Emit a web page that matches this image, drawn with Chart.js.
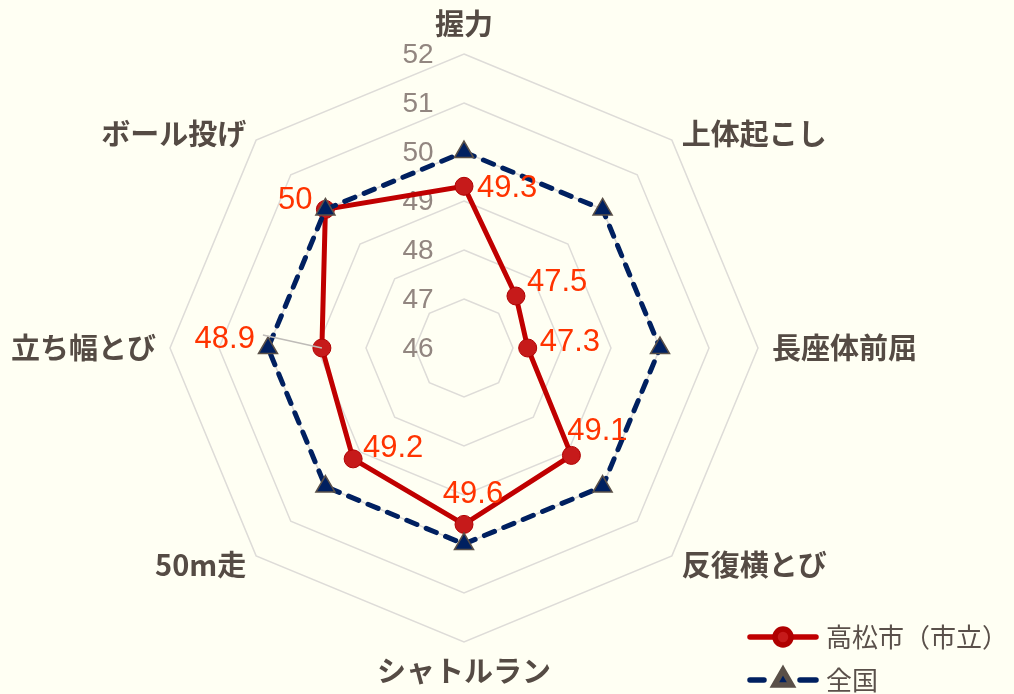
<!DOCTYPE html>
<html lang="ja">
<head>
<meta charset="UTF-8">
<title>体力テスト レーダーチャート</title>
<script src="https://cdn.jsdelivr.net/npm/chart.js@4.4.1/dist/chart.umd.min.js"></script>
<style>
    html, body { margin: 0; padding: 0; background: #fffff3; }
    #wrap { width: 1014px; height: 694px; }
</style>
</head>
<body>
<div id="wrap"><canvas id="radarChart" width="1014" height="694"></canvas></div>
<script>
// 種目と得点（全国＝50）
const categories = ['握力', '上体起こし', '長座体前屈', '反復横とび', 'シャトルラン', '50m走', '立ち幅とび', 'ボール投げ'];
const takamatsuScores = [49.3, 47.5, 47.3, 49.1, 49.6, 49.2, 48.9, 50];
const nationalScores = [50, 50, 50, 50, 50, 50, 50, 50];
const tickValues = [46, 47, 48, 49, 50, 51, 52];
const seriesNames = ['高松市（市立）', '全国'];

const JP_FONT = '"Noto Sans CJK JP", sans-serif';
const NUM_FONT = '"Liberation Sans", Arial, sans-serif';

// 値ラベルの置き場所（点からのずれ）
const labelPlacement = [
    { dx: 13, dy: 2, align: 'left' },
    { dx: 11, dy: -14, align: 'left' },
    { dx: 12, dy: -6, align: 'left' },
    { dx: 26, dy: -24, align: 'center' },
    { dx: 9, dy: -30, align: 'center' },
    { dx: 40, dy: -10, align: 'center' },
    { dx: -67, dy: -9, align: 'right', leader: true },
    { dx: -13, dy: -9, align: 'right' },
];

// 種目名（外周の少し外側）
const axisLabelPlugin = {
    id: 'axisLabels',
    afterDraw(chart) {
        const r = chart.scales.r;
        const ctx = chart.ctx;
        ctx.save();
        ctx.font = 'bold 29px ' + JP_FONT;
        ctx.fillStyle = '#554b44';
        ctx.textBaseline = 'middle';
        chart.data.labels.forEach((label, i) => {
            const pos = r.getPointPosition(i, r.drawingArea + 14);
            const dx = pos.x - r.xCenter;
            const dy = pos.y - r.yCenter;
            let y = pos.y;
            if (Math.abs(dx) < 1) {
                ctx.textAlign = 'center';
                y += dy < 0 ? -16 : 15;
            } else {
                ctx.textAlign = dx > 0 ? 'left' : 'right';
                if (Math.abs(dy) > 1) y += dy < 0 ? 4 : -1;
            }
            ctx.fillText(label, pos.x, y);
        });
        ctx.restore();
    }
};

// 目盛りの数値（中心軸の左側）
const tickLabelPlugin = {
    id: 'tickLabels',
    beforeDatasetsDraw(chart) {
        const r = chart.scales.r;
        const ctx = chart.ctx;
        ctx.save();
        ctx.font = '28px ' + NUM_FONT;
        ctx.fillStyle = '#928680';
        ctx.textAlign = 'center';
        ctx.textBaseline = 'middle';
        tickValues.forEach((v) => {
            const y = r.yCenter - r.getDistanceFromCenterForValue(v);
            ctx.fillText(String(v), r.xCenter - 46, y + 1);
        });
        ctx.restore();
    }
};

// 高松市の値ラベル
const valueLabelPlugin = {
    id: 'valueLabels',
    afterDatasetsDraw(chart) {
        const ctx = chart.ctx;
        const meta = chart.getDatasetMeta(0);
        ctx.save();
        ctx.font = '31px ' + NUM_FONT;
        ctx.fillStyle = '#ff3300';
        ctx.textBaseline = 'middle';
        meta.data.forEach((pt, i) => {
            const p = labelPlacement[i];
            const x = pt.x + p.dx;
            const y = pt.y + p.dy;
            const text = String(takamatsuScores[i]);
            if (p.leader) {
                ctx.strokeStyle = '#bfbcb8';
                ctx.lineWidth = 1.5;
                ctx.beginPath();
                ctx.moveTo(x + 8, y - 4);
                ctx.lineTo(pt.x, pt.y);
                ctx.stroke();
            }
            ctx.textAlign = p.align;
            ctx.fillText(text, x, y);
        });
        ctx.restore();
    }
};

// 線＋マーカーの凡例（右下）
const lineLegendPlugin = {
    id: 'lineLegend',
    afterDraw(chart) {
        const ctx = chart.ctx;
        const x0 = chart.width - 264;
        const x1 = chart.width - 198;
        const mid = (x0 + x1) / 2;
        const rows = [chart.height - 57, chart.height - 14];
        ctx.save();
        chart.data.datasets.forEach((ds, i) => {
            const y = rows[i];
            ctx.strokeStyle = ds.borderColor;
            ctx.lineWidth = ds.borderWidth + 0.5;
            ctx.lineCap = 'round';
            ctx.beginPath();
            if (ds.borderDash) {
                ctx.moveTo(x0, y); ctx.lineTo(x0 + 14, y);
                ctx.moveTo(x1 - 16, y); ctx.lineTo(x1, y);
            } else {
                ctx.moveTo(x0, y); ctx.lineTo(x1, y);
            }
            ctx.stroke();
            ctx.fillStyle = ds.pointBackgroundColor;
            ctx.strokeStyle = ds.pointBorderColor;
            Chart.helpers.drawPoint(ctx, {
                pointStyle: ds.pointStyle,
                radius: ds.pointRadius - 1,
                borderWidth: ds.pointBorderWidth,
                rotation: 0
            }, mid, y);

            ctx.font = '26px ' + JP_FONT;
            ctx.fillStyle = '#5a504a';
            ctx.textAlign = 'left';
            ctx.textBaseline = 'middle';
            ctx.fillText(ds.label, x1 + 10, y);
        });
        ctx.restore();
    }
};

const radarChart = new Chart(document.getElementById('radarChart'), {
    type: 'radar',
    data: {
        labels: categories,
        datasets: [
            {
                label: seriesNames[0],
                data: takamatsuScores,
                borderColor: '#c00000',
                backgroundColor: 'transparent',
                borderWidth: 5,
                fill: false,
                pointStyle: 'circle',
                pointRadius: 9,
                pointBackgroundColor: '#c61a1a',
                pointBorderColor: '#b00000',
                pointBorderWidth: 1,
                order: 2
            },
            {
                label: seriesNames[1],
                data: nationalScores,
                borderColor: '#002060',
                backgroundColor: 'transparent',
                borderWidth: 5,
                borderDash: [11, 10],
                borderCapStyle: 'round',
                fill: false,
                pointStyle: 'triangle',
                pointRadius: 11,
                pointBackgroundColor: '#002060',
                pointBorderColor: '#5a5048',
                pointBorderWidth: 1.5,
                order: 1
            }
        ]
    },
    options: {
        responsive: false,
        animation: false,
        devicePixelRatio: 1,
        layout: {
            padding: { top: 54, bottom: 52, left: 0, right: 86 }
        },
        elements: {
            line: { tension: 0 }
        },
        scales: {
            r: {
                min: tickValues[0],
                max: tickValues[tickValues.length - 1],
                ticks: { display: false, stepSize: 1 },
                grid: { color: '#dedcd8', lineWidth: 1.5, circular: false },
                angleLines: { display: false },
                pointLabels: { display: false }
            }
        },
        plugins: {
            legend: { display: false },
            tooltip: { enabled: false }
        }
    },
    plugins: [tickLabelPlugin, valueLabelPlugin, axisLabelPlugin, lineLegendPlugin]
});
</script>
</body>
</html>
